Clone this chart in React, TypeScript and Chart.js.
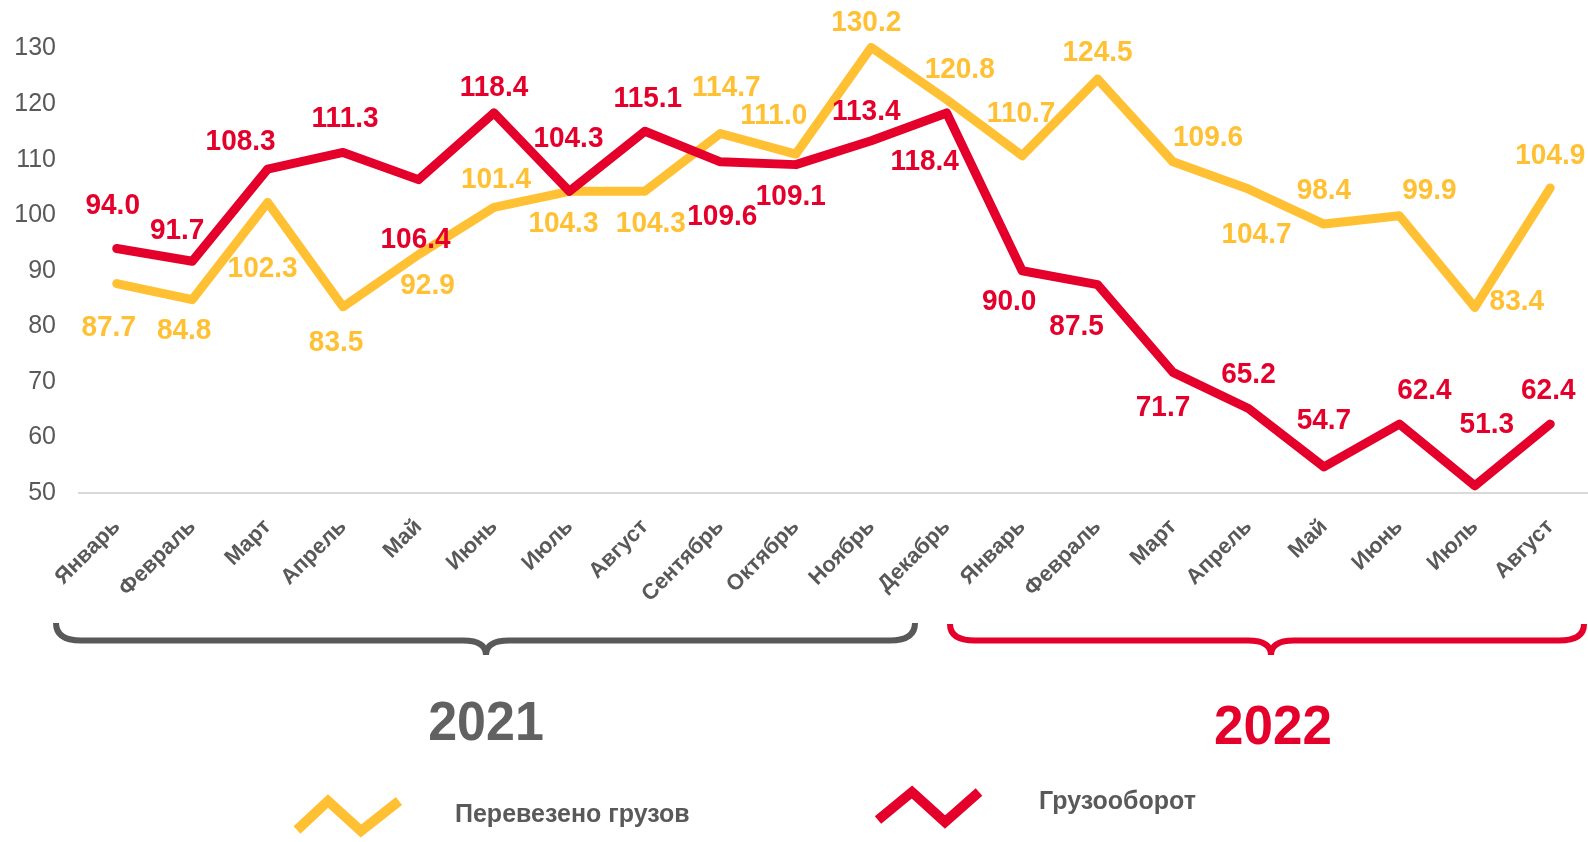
import React, { useEffect, useRef } from 'react';
import { Chart, registerables } from 'chart.js';

Chart.register(...registerables);

// ---------- data ----------
const months = [
  'Январь', 'Февраль', 'Март', 'Апрель', 'Май', 'Июнь', 'Июль', 'Август',
  'Сентябрь', 'Октябрь', 'Ноябрь', 'Декабрь',
  'Январь', 'Февраль', 'Март', 'Апрель', 'Май', 'Июнь', 'Июль', 'Август',
];
const cargoValues = [
  87.7, 84.8, 102.3, 83.5, 92.9, 101.4, 104.3, 104.3, 114.7, 111.0, 130.2, 120.8,
  110.7, 124.5, 109.6, 104.7, 98.4, 99.9, 83.4, 104.9,
];
const turnoverValues = [
  94.0, 91.7, 108.3, 111.3, 106.4, 118.4, 104.3, 115.1, 109.6, 109.1, 113.4, 118.4,
  90.0, 87.5, 71.7, 65.2, 54.7, 62.4, 51.3, 62.4,
];
const seriesNames = ['Перевезено грузов', 'Грузооборот'];
const yearLabels = ['2021', '2022'];
const yMin = 50;
const yMax = 130;
const yStep = 10;

// ---------- styling / layout (label offsets in px from point) ----------
const cargoLabelOffsets: [number, number][] = [
  [-8, 44], [-8, 31], [-5, 66], [-7, 36], [9, 31], [2, -28], [-6, 33], [6, 33],
  [6, -46], [-22, -38], [-5, -25], [13, -30], [-1, -42], [0, -26], [35, -24],
  [8, 46], [0, -33], [30, -25], [42, -6], [0, -32],
];
const turnoverLabelOffsets: [number, number][] = [
  [-4, -43], [-15, -30], [-27, -27], [2, -34], [-3, 60], [0, -25], [-1, -52], [3, -32],
  [2, 55], [-5, 32], [-5, -29], [-22, 49], [-13, 31], [-21, 42], [-10, 35],
  [0, -34], [0, -46], [25, -33], [12, -61], [-2, -33],
];

const YELLOW = '#FFC133';
const RED = '#E4002B';
const GRAY = '#595959';
const FONT = '"Liberation Sans", Arial, sans-serif';

function drawBracket(
  ctx: CanvasRenderingContext2D,
  x1: number, x2: number, xc: number,
  yTop: number, yLine: number, yTip: number,
  color: string,
) {
  const r = 25;
  const t = 23;
  ctx.save();
  ctx.strokeStyle = color;
  ctx.lineWidth = 6;
  ctx.lineCap = 'butt';
  ctx.beginPath();
  ctx.moveTo(x1, yTop);
  ctx.quadraticCurveTo(x1, yLine, x1 + r, yLine);
  ctx.lineTo(xc - t, yLine);
  ctx.quadraticCurveTo(xc, yLine, xc, yTip);
  ctx.quadraticCurveTo(xc, yLine, xc + t, yLine);
  ctx.lineTo(x2 - r, yLine);
  ctx.quadraticCurveTo(x2, yLine, x2, yTop);
  ctx.stroke();
  ctx.restore();
}

function drawZigzag(ctx: CanvasRenderingContext2D, pts: number[][], color: string) {
  ctx.save();
  ctx.strokeStyle = color;
  ctx.lineWidth = 10;
  ctx.lineCap = 'butt';
  ctx.lineJoin = 'miter';
  ctx.beginPath();
  pts.forEach((p, i) => (i === 0 ? ctx.moveTo(p[0], p[1]) : ctx.lineTo(p[0], p[1])));
  ctx.stroke();
  ctx.restore();
}

// text stretched slightly vertically, as in the reference
function tallText(ctx: CanvasRenderingContext2D, text: string, x: number, y: number, sy: number) {
  ctx.save();
  ctx.translate(x, y);
  ctx.scale(1, sy);
  ctx.fillText(text, 0, 0);
  ctx.restore();
}

const overlayPlugin = {
  id: 'overlay',
  afterDatasetsDraw(chart: any) {
    const ctx: CanvasRenderingContext2D = chart.ctx;
    const sets = [
      { idx: 0, offs: turnoverLabelOffsets, color: RED },
      { idx: 1, offs: cargoLabelOffsets, color: YELLOW },
    ];
    sets.forEach(({ idx, offs, color }) => {
      const meta = chart.getDatasetMeta(idx);
      const data = chart.data.datasets[idx].data as number[];
      ctx.save();
      ctx.font = `bold 28px ${FONT}`;
      ctx.fillStyle = color;
      ctx.textAlign = 'center';
      ctx.textBaseline = 'middle';
      meta.data.forEach((pt: any, i: number) => {
        const o = offs[i] || [0, -30];
        tallText(ctx, data[i].toFixed(1), pt.x + o[0], pt.y + o[1], 1.06);
      });
      ctx.restore();
    });
  },
  afterDraw(chart: any) {
    const ctx: CanvasRenderingContext2D = chart.ctx;
    // brackets
    drawBracket(ctx, 56, 915, 486, 623, 640.5, 655, GRAY);
    drawBracket(ctx, 950, 1584, 1271, 624, 640.5, 655, RED);
    // years
    ctx.save();
    ctx.textAlign = 'center';
    ctx.textBaseline = 'middle';
    ctx.font = `bold 52px ${FONT}`;
    ctx.fillStyle = '#616161';
    tallText(ctx, yearLabels[0], 486, 725, 1.05);
    ctx.font = `bold 53px ${FONT}`;
    ctx.fillStyle = RED;
    tallText(ctx, yearLabels[1], 1273, 729, 1.05);
    ctx.restore();
    // legend
    drawZigzag(ctx, [[297, 830], [328, 801], [361, 831], [399, 801]], YELLOW);
    drawZigzag(ctx, [[878, 820], [912, 792], [945, 822], [979, 792]], RED);
    ctx.save();
    ctx.font = `bold 25px ${FONT}`;
    ctx.fillStyle = GRAY;
    ctx.textAlign = 'left';
    ctx.textBaseline = 'middle';
    tallText(ctx, seriesNames[0], 455, 815, 1.05);
    tallText(ctx, seriesNames[1], 1039, 802, 1.05);
    ctx.restore();
  },
};

export default function App() {
  const canvasRef = useRef<HTMLCanvasElement | null>(null);

  useEffect(() => {
    if (!canvasRef.current) return;
    const chart = new Chart(canvasRef.current, {
      type: 'line',
      data: {
        labels: months,
        datasets: [
          {
            label: seriesNames[1],
            data: turnoverValues,
            borderColor: RED,
            backgroundColor: RED,
            borderWidth: 9,
            pointRadius: 0,
            tension: 0,
            clip: false as any,
            borderCapStyle: 'round',
            borderJoinStyle: 'round',
            order: 0,
          },
          {
            label: seriesNames[0],
            data: cargoValues,
            borderColor: YELLOW,
            backgroundColor: YELLOW,
            borderWidth: 9,
            pointRadius: 0,
            tension: 0,
            clip: false as any,
            borderCapStyle: 'round',
            borderJoinStyle: 'round',
            order: 1,
          },
        ],
      },
      options: {
        responsive: false,
        animation: false,
        layout: { padding: { top: 48.5, left: 0, right: 0, bottom: 0 } },
        plugins: {
          legend: { display: false },
          tooltip: { enabled: false },
        },
        scales: {
          x: {
            offset: true,
            grid: { display: false, drawTicks: false },
            border: { display: true, color: '#D9D9D9', width: 2 },
            ticks: {
              autoSkip: false,
              minRotation: 45,
              maxRotation: 45,
              padding: 21,
              color: GRAY,
              font: { family: FONT, size: 22, weight: 'bold' },
            },
            afterFit: (scale: any) => {
              scale.height = 349;
              scale.paddingLeft = 0;
              scale.paddingRight = 0;
            },
          },
          y: {
            min: yMin,
            max: yMax,
            grid: { display: false, drawTicks: false },
            border: { display: false },
            ticks: {
              stepSize: yStep,
              padding: 23,
              color: GRAY,
              font: { family: FONT, size: 25 },
            },
            afterFit: (scale: any) => {
              scale.width = 79;
              scale.paddingTop = 0;
              scale.paddingBottom = 0;
            },
          },
        },
      },
      plugins: [overlayPlugin],
    });
    return () => chart.destroy();
  }, []);

  return (
    <div style={{ position: 'absolute', left: 0, top: 0, width: 1588, height: 842, background: '#fff' }}>
      <canvas ref={canvasRef} width={1588} height={842} style={{ display: 'block' }} />
    </div>
  );
}
